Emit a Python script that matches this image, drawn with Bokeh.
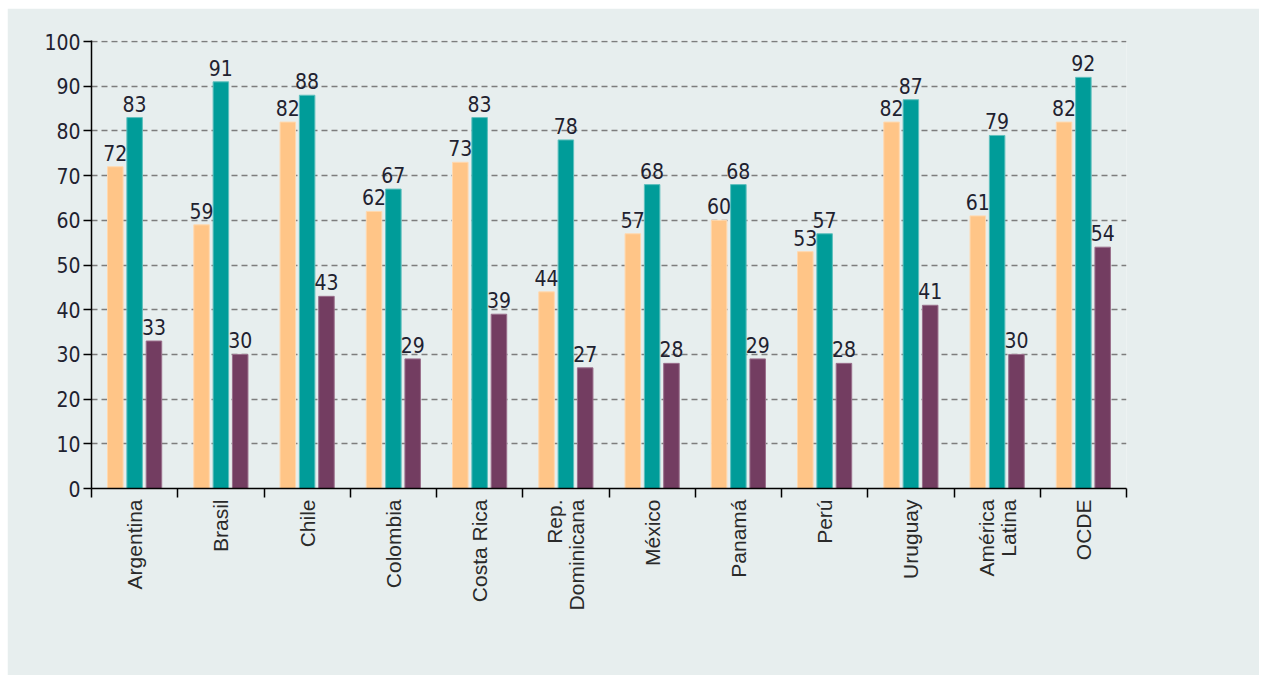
import math
from bokeh.plotting import figure
from bokeh.models import (ColumnDataSource, FactorRange, Range1d, LinearAxis, CategoricalAxis,
                          FixedTicker, LabelSet, Legend, LegendItem)
from bokeh.core.properties import value
from bokeh.transform import dodge
from bokeh.embed import file_html
from bokeh.resources import INLINE

paises = ["Argentina", "Brasil", "Chile", "Colombia", "Costa Rica", "Rep.\nDominicana",
          "México", "Panamá", "Perú", "Uruguay", "América\nLatina", "OCDE"]
computadora = [72, 59, 82, 62, 73, 44, 57, 60, 53, 82, 61, 82]
internet = [83, 91, 88, 67, 83, 78, 68, 68, 57, 87, 79, 92]
software = [33, 30, 43, 29, 39, 27, 28, 29, 28, 41, 30, 54]
y_ticks = list(range(0, 101, 10))
series = ["Computadora", "Conexión a Internet", "Software educativo"]

C_ORANGE = "#FFC587"
C_TEAL = "#009C99"
C_PURPLE = "#733D61"
BG = "#E7EEEE"
TXT = "#1F2230"
NARROW = "DejaVu Sans Condensed"

src = ColumnDataSource(dict(pais=paises, comp=computadora, inet=internet, soft=software))

p = figure(x_range=FactorRange(*paises), y_range=Range1d(0, 100.25),
           frame_width=1035, frame_height=448,
           min_border_left=84, min_border_right=133, min_border_top=32, min_border_bottom=4,
           x_axis_location=None, toolbar_location=None, output_backend="svg",
           background_fill_color=BG, border_fill_color=BG, outline_line_color=None)
p.margin = (8, 0, 0, 7)

off = 0.224
bw = 0.18
r1 = p.vbar(x=dodge("pais", -off, range=p.x_range), top="comp", width=bw, source=src,
            fill_color=C_ORANGE, line_color="#FFD9B0", line_width=1)
r2 = p.vbar(x=dodge("pais", 0, range=p.x_range), top="inet", width=bw, source=src,
            fill_color=C_TEAL, line_color="#5FC0BE", line_width=1)
r3 = p.vbar(x=dodge("pais", off, range=p.x_range), top="soft", width=bw, source=src,
            fill_color=C_PURPLE, line_color="#9A6F8C", line_width=1)

for col, dx in (("comp", -off), ("inet", 0), ("soft", off)):
    p.add_layout(LabelSet(x=dodge("pais", dx, range=p.x_range), y=col, text=col, source=src,
                          text_align="center", text_baseline="bottom", y_offset=6,
                          text_font=value(NARROW), text_font_size="21px", text_color=TXT))

# y axis
ya = p.yaxis[0]
ya.ticker = FixedTicker(ticks=y_ticks)
ya.major_tick_out = 8
ya.major_tick_in = 0
ya.minor_tick_line_color = None
ya.axis_line_color = "black"
ya.axis_line_width = 1.5
ya.major_tick_line_color = "black"
ya.major_tick_line_width = 1.5
ya.major_label_text_font = NARROW
ya.major_label_text_font_size = "21px"
ya.major_label_text_color = TXT
ya.major_label_standoff = 3

p.xgrid.visible = False
p.ygrid.ticker = FixedTicker(ticks=y_ticks[1:])
p.ygrid.grid_line_color = "#7D7D7D"
p.ygrid.grid_line_width = 1.4
p.ygrid.grid_line_dash = "6 4"

# boundary ticks axis (synthetic categorical coordinates 0..12)
bounds = list(range(len(paises) + 1))
tick_axis = LinearAxis(ticker=FixedTicker(ticks=bounds),
                       major_label_overrides={b: "" for b in bounds},
                       major_label_text_font_size="0px", major_label_standoff=0,
                       major_tick_out=9, major_tick_in=0, minor_tick_line_color=None,
                       axis_line_color="black", axis_line_width=1.5,
                       major_tick_line_color="black", major_tick_line_width=1.5)
p.add_layout(tick_axis, "below")

cat_axis = CategoricalAxis(axis_line_color=None, major_tick_line_color=None,
                           minor_tick_line_color=None, major_label_standoff=-4,
                           major_label_orientation=math.pi / 2,
                           major_label_text_font="Liberation Sans", major_label_text_font_size="21px",
                           major_label_text_line_height=0.95,
                           major_label_text_color="#2A2A2A")
p.add_layout(cat_axis, "below")

legend = Legend(items=[LegendItem(label=series[0], renderers=[r1]),
                       LegendItem(label=series[1], renderers=[r2]),
                       LegendItem(label=series[2], renderers=[r3])],
                orientation="horizontal", location="center",
                glyph_width=29, glyph_height=20, label_standoff=6, spacing=50,
                padding=0, margin=14, border_line_color=None, background_fill_alpha=0,
                label_text_font=NARROW, label_text_font_size="18px", label_text_color=TXT,
                label_height=20)
p.add_layout(legend, "below")

open("out.html", "w").write(file_html(p, INLINE))
